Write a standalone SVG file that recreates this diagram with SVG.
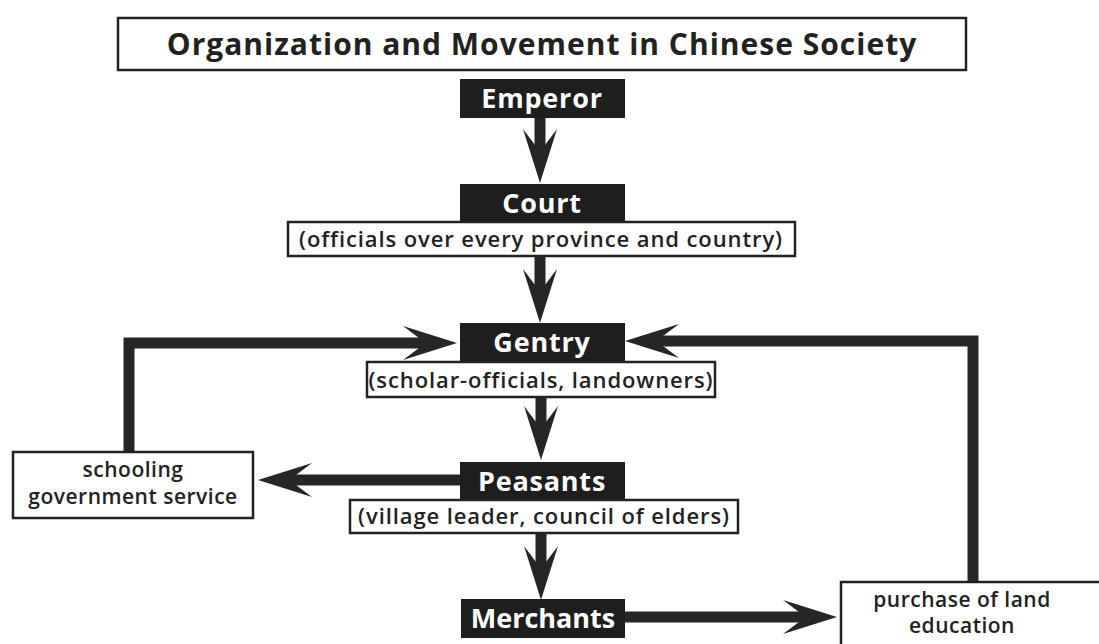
<svg xmlns="http://www.w3.org/2000/svg" width="1099" height="644" viewBox="0 0 1099 644">
<style>
.dark{fill:#1e1e1e}
.white-box{fill:#fff;stroke:#222;stroke-width:2.5}
.lbl{font-family:"Open Sans","Liberation Sans",sans-serif;font-weight:bold;fill:#fff;font-size:27px;letter-spacing:0.8px;text-anchor:middle}
.sub{font-family:"Open Sans","Liberation Sans",sans-serif;fill:#222;font-size:22px;letter-spacing:0.9px;text-anchor:middle;font-weight:600}
.box{font-family:"Open Sans","Liberation Sans",sans-serif;fill:#222;font-size:21px;letter-spacing:0.5px;text-anchor:middle;font-weight:600}
.title{font-family:"Open Sans","Liberation Sans",sans-serif;font-weight:bold;fill:#222;font-size:30px;letter-spacing:1px;text-anchor:middle}
.conn{fill:none;stroke:#262626;stroke-width:11}
</style>
<defs>
<marker id="ah" viewBox="-56 -20 58 40" markerWidth="58" markerHeight="40" refX="-38" refY="0" orient="auto" markerUnits="userSpaceOnUse">
<path d="M0 0 L-54 -17 L-38 -5 L-38 5 L-54 17 Z" fill="#262626"/>
</marker>
</defs>
<rect width="1099" height="644" fill="#fff"/>
<g id="title">
<rect x="118" y="18" width="848" height="52" class="white-box"/>
<text x="542" y="55" class="title">Organization and Movement in Chinese Society</text>
</g>
<g id="connectors">
<path class="conn" d="M540 118 L540 145" marker-end="url(#ah)"/>
<path class="conn" d="M540 256 L540 285" marker-end="url(#ah)"/>
<path class="conn" d="M541 397 L541 422" marker-end="url(#ah)"/>
<path class="conn" d="M541 533 L541 562" marker-end="url(#ah)"/>
<path class="conn" d="M460 480 L296 480" marker-end="url(#ah)"/>
<path class="conn" d="M129 452 L129 343 L419 343" marker-end="url(#ah)"/>
<path class="conn" d="M973 582 L973 341 L663 341" marker-end="url(#ah)"/>
<path class="conn" d="M624 617 L799 617" marker-end="url(#ah)"/>
</g>
<g id="emperor">
<rect x="460" y="79" width="165" height="39" class="dark"/>
<text x="542" y="108" class="lbl">Emperor</text>
</g>
<g id="court">
<rect x="460" y="184" width="165" height="39" class="dark"/>
<text x="542" y="213" class="lbl">Court</text>
<rect x="288" y="222" width="507" height="34" class="white-box"/>
<text x="541" y="247" class="sub">(officials over every province and country)</text>
</g>
<g id="gentry">
<rect x="460" y="323" width="165" height="40" class="dark"/>
<text x="542" y="352" class="lbl">Gentry</text>
<rect x="367" y="362" width="348" height="35" class="white-box"/>
<text x="541" y="388" class="sub">(scholar-officials, landowners)</text>
</g>
<g id="peasants">
<rect x="460" y="462" width="165" height="39" class="dark"/>
<text x="542" y="491" class="lbl">Peasants</text>
<rect x="350" y="500" width="388" height="33" class="white-box"/>
<text x="544" y="524" class="sub">(village leader, council of elders)</text>
</g>
<g id="merchants">
<rect x="461" y="599" width="164" height="39" class="dark"/>
<text x="543" y="628" class="lbl" style="letter-spacing:0px">Merchants</text>
</g>
<g id="schooling">
<rect x="13" y="452" width="240" height="66" class="white-box"/>
<text x="133" y="477" class="box">schooling</text>
<text x="133" y="504" class="box">government service</text>
</g>
<g id="purchase">
<rect x="841" y="582" width="270" height="70" class="white-box"/>
<text x="962" y="607" class="box">purchase of land</text>
<text x="962" y="633" class="box">education</text>
</g>
</svg>
